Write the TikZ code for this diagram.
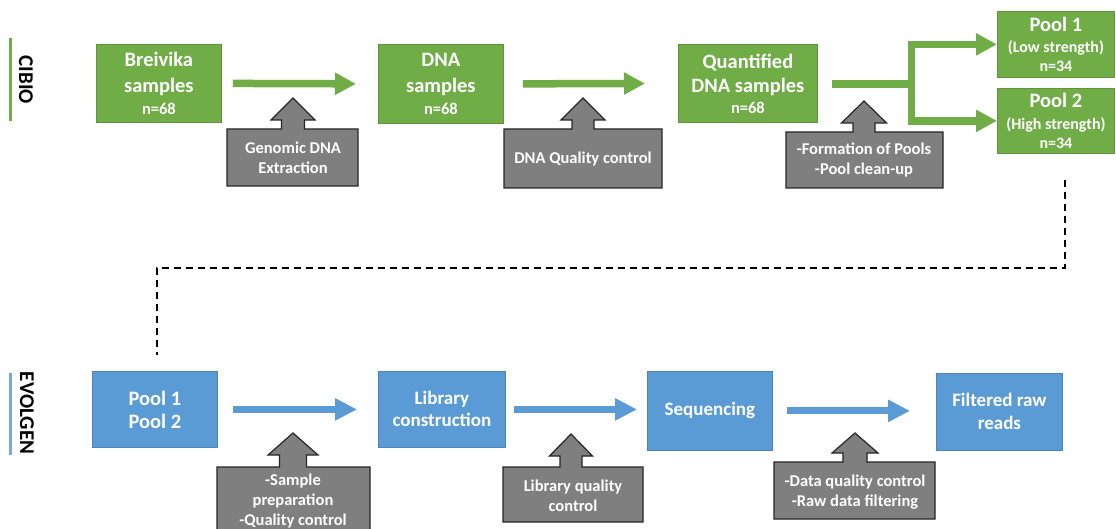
\documentclass[tikz,border=0pt]{standalone}
\usepackage{fontspec}
\setmainfont{Carlito}
\usetikzlibrary{arrows.meta,calc}
\definecolor{cgreen}{HTML}{70AD47}
\definecolor{cblue}{HTML}{5B9BD5}
\definecolor{cgray}{HTML}{7F7F7F}
\definecolor{cgrayd}{HTML}{262626}
\newcommand\fsz[2]{\fontsize{#1}{#2}\selectfont}
% #1 cx, #2 tip y, #3 head base y, #4 head half, #5 shaft half, #6 left, #7 right, #8 top, #9 bottom
\newcommand\callout[9]{%
  \draw[callshape] (#6,#8) -- ({#1-#5},#8) -- ({#1-#5},#3) -- ({#1-#4},#3) -- (#1,#2)
    -- ({#1+#4},#3) -- ({#1+#5},#3) -- ({#1+#5},#8) -- (#7,#8) -- (#7,#9) -- (#6,#9) -- cycle;}
\tikzset{
  gbox/.style={fill=cgreen, draw=cgreen!85!black, line width=0.8, text=white,
    font=\fsz{20.5}{26}\bfseries, align=center, inner sep=0, anchor=north west},
  bbox/.style={fill=cblue, draw=cblue!85!black, line width=0.8, text=white,
    font=\fsz{19}{22}\bfseries, align=center, inner sep=0, anchor=north west},
  garrow/.style={draw=cgreen, line width=7.5, line join=miter, -{Triangle[length=21pt,width=21pt]}},
  gline/.style={draw=cgreen, line width=7.5, line join=miter},
  barrow/.style={draw=cblue, line width=7, -{Triangle[length=22pt,width=21pt]}},
  callshape/.style={fill=cgray, draw=cgrayd, line width=1.2, line join=miter},
  calltext/.style={text=white, font=\fsz{16.5}{20}\bfseries, align=center, inner sep=0},
  dline/.style={draw=black, line width=1.6, dash pattern=on 7pt off 5pt},
  sidelabel/.style={rotate=-90, font=\fsz{21}{25}\bfseries, inner sep=0},
}
\begin{document}
\begin{tikzpicture}[x=1pt,y=-1pt]
\clip (0,0) rectangle (1116,529);
\fill[white] (0,0) rectangle (1116,529);

% side labels
\draw[cgreen, line width=3] (10,38) -- (10,121);
\node[sidelabel] (cibio) at (26,80) {CIBIO};
\draw[cblue!85!white, line width=3] (10,373) -- (10,455);
\node[sidelabel] (evolgen) at (27,413) {EVOLGEN};

% green boxes
\node[gbox, minimum width=125, minimum height=78] (bre) at (96,44) {Breivika\\samples\\[-4pt]\fsz{16.5}{18}n=68};
\node[gbox, minimum width=125, minimum height=79] (dna) at (378,44) {DNA\\samples\\[-4pt]\fsz{16.5}{18}n=68};
\node[gbox, minimum width=139, minimum height=78, font=\fsz{20.5}{24}\bfseries] (qdna) at (678,44) {Quantified\\DNA samples\\[-3pt]\fsz{16.5}{18}n=68};
\node[gbox, minimum width=117, minimum height=66, font=\fsz{20.5}{21}\bfseries] (p1) at (997,11) {Pool 1\\\fsz{16}{17}(Low strength)\\[-2pt]\fsz{16}{17}n=34};
\node[gbox, minimum width=117, minimum height=65, font=\fsz{20.5}{22}\bfseries] (p2) at (997,88) {Pool 2\\\fsz{16}{17}(High strength)\\[-3pt]\fsz{16}{17}n=34};

% green arrows
\draw[garrow, shorten <=11pt, shorten >=22pt] (bre.east) -- (dna.west);
\draw[garrow, shorten <=19pt, shorten >=33pt] (dna.east) -- (qdna.west);
\coordinate (br) at (911.5,84);
\coordinate (qs) at (832,84);
\draw[gline] (qs) -- (br);
\draw[garrow] (br) |- (p1);
\draw[garrow] (br) |- (p2);

% top callouts
\callout{293}{98}{120}{22}{11.5}{227}{358}{129}{186}
\node[calltext] (c1) at (293,158) {Genomic DNA\\Extraction};
\callout{583}{98}{120}{22}{11}{504}{662}{129}{188}
\node[calltext] (c2) at (583,159) {DNA Quality control};
\callout{864}{101}{123}{22.5}{11}{786}{943}{132}{188}
\node[calltext] (c3) at (864,160) {-Formation of Pools\\-Pool clean-up};

% dashed connector
\coordinate (d1) at (1065,180);
\coordinate (dm) at (0,268);
\coordinate (d2) at (157,355);
\draw[dline] (d1) -- (d1 |- dm) -| (d2);

% blue boxes
\node[bbox, minimum width=125, minimum height=76, font=\fsz{20.5}{23}\bfseries] (bp) at (92,371) {Pool 1\\Pool 2};
\node[bbox, minimum width=127, minimum height=76] (lib) at (378,371) {Library\\construction};
\node[bbox, minimum width=125, minimum height=79] (seq) at (647,371) {Sequencing};
\node[bbox, minimum width=126, minimum height=77, font=\fsz{19}{23}\bfseries] (filt) at (936,373) {Filtered raw\\reads};

% blue arrows
\draw[barrow, shorten <=15pt, shorten >=21pt] (bp.east) -- (lib.west);
\draw[barrow, shorten <=8pt, shorten >=10pt] (lib.east) -- (lib.east -| seq.west);
\draw[barrow, shorten <=14pt, shorten >=26pt] (seq.east) -- (seq.east -| filt.west);

% bottom callouts
\callout{293}{433}{455}{25}{13.5}{217}{370}{467}{540}
\node[calltext] (c4) at (293,501.5) {-Sample\\preparation\\-Quality control};
\callout{571}{434}{456}{21.5}{11}{503}{643}{467}{522}
\node[calltext] (c5) at (573,496) {Library quality\\control};
\callout{855}{433}{453}{23}{12}{774}{935}{462}{519}
\node[calltext] (c6) at (855,492) {-Data quality control\\-Raw data filtering};
\end{tikzpicture}
\end{document}
